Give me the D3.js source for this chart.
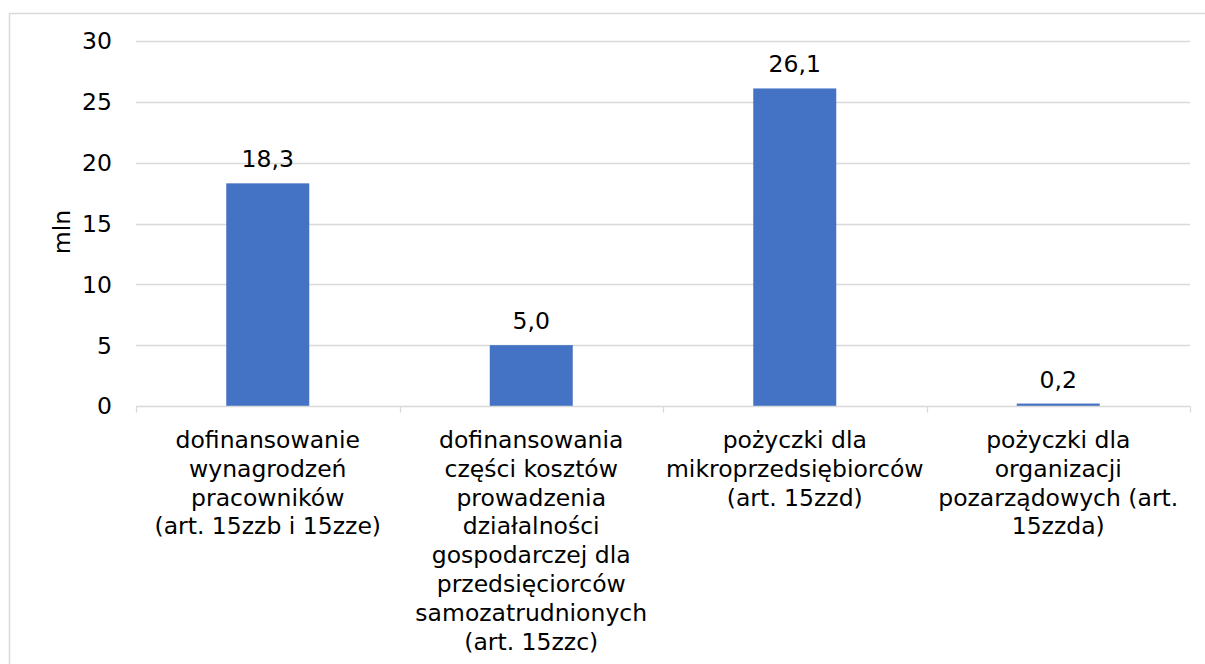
<!DOCTYPE html>
<html>
<head>
<meta charset="utf-8">
<script src="https://cdn.jsdelivr.net/npm/d3@7"></script>
<style>
  body { margin: 0; background: #fff; }
  svg { display: block; font-family: "DejaVu Sans", Verdana, sans-serif; }
</style>
</head>
<body>
<div id="chart"></div>
<script>
const categories = [
  ["dofinansowanie", "wynagrodzeń", "pracowników", "(art. 15zzb i 15zze)"],
  ["dofinansowania", "części kosztów", "prowadzenia", "działalności", "gospodarczej dla", "przedsięciorców", "samozatrudnionych", "(art. 15zzc)"],
  ["pożyczki dla", "mikroprzedsiębiorców", "(art. 15zzd)"],
  ["pożyczki dla", "organizacji", "pozarządowych (art.", "15zzda)"]
];
const values = [18.3, 5.0, 26.1, 0.2];
const yTicks = [0, 5, 10, 15, 20, 25, 30];
const yLabel = "mln";

const width = 1205, height = 664;
const margin = { left: 136, right: 15, top: 41, bottom: 258 };
const fontSize = 23.5;
const lineH = 28.8;

const svg = d3.select("#chart").append("svg")
  .attr("width", width)
  .attr("height", height);

// outer chart border
svg.append("rect")
  .attr("x", 9.5).attr("y", 13.5)
  .attr("width", width + 20).attr("height", height + 20)
  .attr("fill", "none")
  .attr("stroke", "#d9d9d9")
  .attr("stroke-width", 1.5);

const x = d3.scaleBand()
  .domain(d3.range(categories.length))
  .range([margin.left, width - margin.right])
  .paddingInner(0.685)
  .paddingOuter(0.3425);

const xOuter = d3.scaleBand()
  .domain(d3.range(categories.length))
  .range([margin.left, width - margin.right]);

const y = d3.scaleLinear()
  .domain([0, 30])
  .range([height - margin.bottom, margin.top]);

// gridlines
svg.append("g")
  .selectAll("line")
  .data(yTicks.filter(d => d > 0))
  .join("line")
  .attr("x1", margin.left)
  .attr("x2", width - margin.right)
  .attr("y1", d => Math.round(y(d)) + 0.5)
  .attr("y2", d => Math.round(y(d)) + 0.5)
  .attr("stroke", "#d9d9d9")
  .attr("stroke-width", 1.3);

// y tick labels
svg.append("g")
  .selectAll("text")
  .data(yTicks)
  .join("text")
  .attr("x", 112)
  .attr("y", d => y(d))
  .attr("dy", "0.36em")
  .attr("text-anchor", "end")
  .attr("font-size", fontSize)
  .attr("fill", "#000")
  .text(d => d);

// y axis title
svg.append("text")
  .attr("transform", `translate(70, 232) rotate(-90)`)
  .attr("text-anchor", "middle")
  .attr("font-size", fontSize)
  .attr("fill", "#000")
  .text(yLabel);

// bars
svg.append("g")
  .selectAll("rect")
  .data(values)
  .join("rect")
  .attr("x", (d, i) => x(i))
  .attr("width", x.bandwidth())
  .attr("y", d => y(d))
  .attr("height", d => y(0) - y(d))
  .attr("fill", "#4472C4");

// x axis line with ticks
const x0 = Math.round(y(0)) + 0.5;
svg.append("line")
  .attr("x1", margin.left).attr("x2", width - margin.right)
  .attr("y1", x0).attr("y2", x0)
  .attr("stroke", "#d9d9d9")
  .attr("stroke-width", 1.3);

const boundaries = d3.range(categories.length + 1)
  .map(i => i < categories.length ? xOuter(i) : xOuter(i - 1) + xOuter.bandwidth());
svg.append("g")
  .selectAll("line")
  .data(boundaries)
  .join("line")
  .attr("x1", d => Math.round(d) + 0.5)
  .attr("x2", d => Math.round(d) + 0.5)
  .attr("y1", x0).attr("y2", x0 + 6)
  .attr("stroke", "#d9d9d9")
  .attr("stroke-width", 1.3);

// data labels
svg.append("g")
  .selectAll("text")
  .data(values)
  .join("text")
  .attr("x", (d, i) => x(i) + x.bandwidth() / 2)
  .attr("y", d => y(d) - 16)
  .attr("text-anchor", "middle")
  .attr("font-size", fontSize)
  .attr("fill", "#000")
  .text(d => d3.format(".1f")(d).replace(".", ","));

// category labels
const cat = svg.append("g")
  .selectAll("text")
  .data(categories)
  .join("text")
  .attr("x", (d, i) => xOuter(i) + xOuter.bandwidth() / 2)
  .attr("y", 448)
  .attr("text-anchor", "middle")
  .attr("font-size", fontSize)
  .attr("fill", "#000");

cat.selectAll("tspan")
  .data(d => d)
  .join("tspan")
  .attr("x", function () { return this.parentNode.getAttribute("x"); })
  .attr("dy", (d, i) => i === 0 ? 0 : lineH)
  .text(d => d);
</script>
</body>
</html>
